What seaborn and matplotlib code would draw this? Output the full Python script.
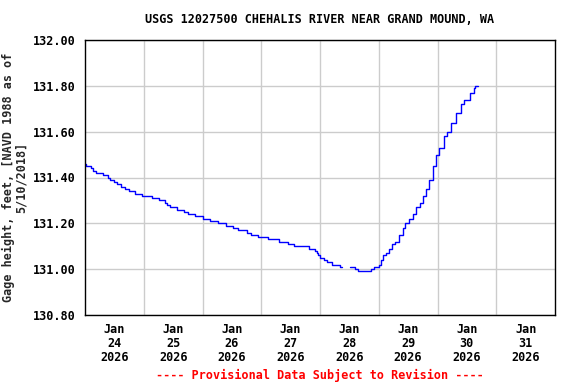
import pandas as pd
import matplotlib
matplotlib.use("Agg")
import matplotlib.pyplot as plt
from matplotlib.ticker import FormatStrFormatter
import seaborn as sns

# hours since 2026-01-24 00:00 and gage height (ft)
hours_before_gap = [0, 0.6, 2.3, 3.1, 4.3, 7.5, 9.5, 10.2, 11.9, 12.9, 14.7, 16.4,
                    18.1, 20.5, 23.2, 27.3, 30.1, 32.8, 33.6, 34.6, 37.6, 40.3, 42.0,
                    45.1, 48.3, 50.9, 54.3, 57.4, 60.4, 62.5, 66.1, 67.7, 70.7, 74.8,
                    79.3, 83.0, 85.5, 91.4, 94.0, 94.6, 95.3, 96.2, 97.8, 99.0, 100.7,
                    104.1, 105.1]
stage_before_gap = [131.46, 131.45, 131.44, 131.43, 131.42, 131.41, 131.40, 131.39,
                    131.38, 131.37, 131.36, 131.35, 131.34, 131.33, 131.32, 131.31,
                    131.30, 131.29, 131.28, 131.27, 131.26, 131.25, 131.24, 131.23,
                    131.22, 131.21, 131.20, 131.19, 131.18, 131.17, 131.16, 131.15,
                    131.14, 131.13, 131.12, 131.11, 131.10, 131.09, 131.08, 131.07,
                    131.06, 131.05, 131.04, 131.03, 131.02, 131.01, 131.01]

hours_after_gap = [108.2, 110.5, 111.5, 117.0, 118.1, 120.0, 120.9, 121.9, 123.0,
                   124.1, 125.4, 126.8, 128.2, 129.8, 130.8, 132.3, 133.9, 135.3,
                   136.7, 138.0, 139.5, 140.5, 142.0, 143.4, 144.7, 146.8, 147.9,
                   149.5, 151.6, 153.4, 155.0, 157.1, 158.9, 159.5, 160.5]
stage_after_gap = [131.01, 131.00, 130.99, 131.00, 131.01, 131.02, 131.04, 131.06,
                   131.07, 131.09, 131.11, 131.12, 131.15, 131.18, 131.20, 131.22,
                   131.24, 131.27, 131.29, 131.32, 131.35, 131.39, 131.45, 131.50,
                   131.53, 131.58, 131.60, 131.64, 131.68, 131.72, 131.74, 131.77,
                   131.79, 131.80, 131.80]

start = pd.Timestamp("2026-01-24")
y_ticks = [130.8, 131.0, 131.2, 131.4, 131.6, 131.8, 132.0]

df = pd.concat([
    pd.DataFrame({"hours": hours_before_gap, "stage": stage_before_gap, "seg": 0}),
    pd.DataFrame({"hours": hours_after_gap, "stage": stage_after_gap, "seg": 1}),
])
df["time"] = start + pd.to_timedelta(df["hours"], unit="h")

sns.set_style("white")
plt.rcParams["font.family"] = ["DejaVu Sans Mono"]
plt.rcParams["font.weight"] = "bold"
plt.rcParams["text.color"] = "black"
plt.rcParams["xtick.color"] = "black"
plt.rcParams["ytick.color"] = "black"

fig = plt.figure(figsize=(5.76, 3.84), dpi=100)
ax = fig.add_axes([85 / 576, 1 - 315 / 384, 470 / 576, 275 / 384])

sns.lineplot(data=df, x="time", y="stage", units="seg", estimator=None,
             color="#0000ff", linewidth=1.0, drawstyle="steps-post", ax=ax)

ax.set_xlim(start, start + pd.Timedelta(days=8))
ax.set_ylim(130.8, 132.0)
ax.set_yticks(y_ticks)
ax.yaxis.set_major_formatter(FormatStrFormatter("%.2f"))

days = [start + pd.Timedelta(days=i) for i in range(8)]
ax.set_xticks([d + pd.Timedelta(hours=12) for d in days])
ax.set_xticklabels([d.strftime("%b\n%d\n%Y") for d in days])
ax.set_xticks(days[1:], minor=True)
for lab in ax.get_xticklabels():
    lab.set_linespacing(1.08)
    lab.set_fontweight("bold")
for lab in ax.get_yticklabels():
    lab.set_fontweight("bold")

ax.grid(False)
ax.grid(True, which="minor", axis="x", color="#cccccc", linewidth=1)
ax.grid(True, which="major", axis="y", color="#cccccc", linewidth=1)
ax.tick_params(axis="x", which="both", length=0, pad=6, labelsize=8.5)
ax.tick_params(axis="y", length=0, pad=7, labelsize=8.5)
for s in ax.spines.values():
    s.set_color("black")
    s.set_linewidth(1)

ax.set_xlabel("")
ax.set_ylabel("Gage height, feet, [NAVD 1988 as of\n5/10/2018]", fontsize=8.5,
              fontweight="bold", linespacing=1.0)
ax.yaxis.set_label_coords((28 - 85) / 470, 0.5)
ax.set_title("USGS 12027500 CHEHALIS RIVER NEAR GRAND MOUND, WA", fontsize=8.5,
             fontweight="bold", pad=12)
fig.text(320 / 576, 1 - 375 / 384, "---- Provisional Data Subject to Revision ----",
         color="red", fontsize=8.5, fontweight="bold", ha="center", va="center")

fig.savefig("out.png", dpi=100)
